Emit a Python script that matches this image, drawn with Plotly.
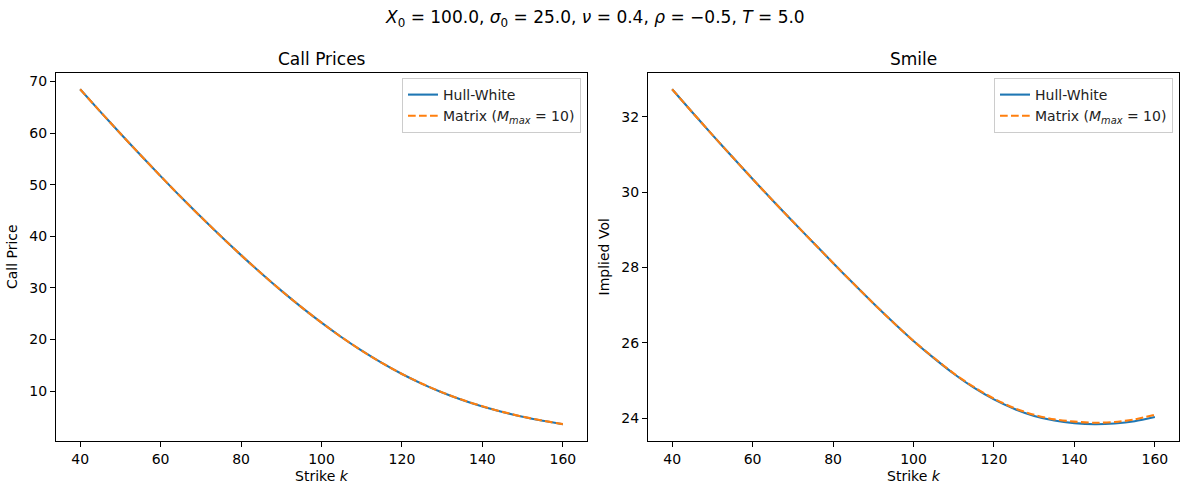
import plotly.graph_objects as go

strikes = [40, 45, 50, 55, 60, 65, 70, 75, 80, 85, 90, 95, 100, 105, 110, 115, 120, 125, 130, 135, 140, 145, 150, 155, 160]

call_hw = [68.49, 64.16, 59.91, 55.74, 51.65, 47.64, 43.76, 39.99, 36.34, 32.83, 29.46, 26.26, 23.24,
           20.42, 17.81, 15.44, 13.29, 11.39, 9.72, 8.27, 7.01, 5.94, 5.00, 4.22, 3.56]
call_mx = [68.49, 64.16, 59.91, 55.74, 51.65, 47.64, 43.76, 39.99, 36.34, 32.83, 29.46, 26.26, 23.24,
           20.42, 17.82, 15.45, 13.31, 11.41, 9.74, 8.29, 7.04, 5.96, 5.03, 4.25, 3.59]

vol_hw = [32.73, 32.12, 31.52, 30.93, 30.35, 29.78, 29.22, 28.67, 28.12, 27.58, 27.05, 26.54, 26.05,
          25.60, 25.18, 24.81, 24.50, 24.25, 24.06, 23.94, 23.87, 23.84, 23.86, 23.92, 24.03]
vol_mx = [32.73, 32.12, 31.52, 30.93, 30.35, 29.78, 29.22, 28.67, 28.12, 27.58, 27.05, 26.54, 26.05,
          25.61, 25.19, 24.83, 24.52, 24.27, 24.09, 23.97, 23.91, 23.88, 23.90, 23.97, 24.09]

x_ticks = [40, 60, 80, 100, 120, 140, 160]
call_ticks = [10, 20, 30, 40, 50, 60, 70]
vol_ticks = [24, 26, 28, 30, 32]

BLUE = "#1f77b4"
ORANGE = "#ff7f0e"
FONT = "DejaVu Sans"
W, H = 1189, 495

fig = go.Figure()

hw_name = "Hull-White"
mx_name = "Matrix (<i>M</i><sub><i>max</i></sub> = 10)"

fig.add_trace(go.Scatter(x=strikes, y=call_hw, mode="lines", name=hw_name,
                         line=dict(color=BLUE, width=2.1, shape="spline", smoothing=0.8),
                         xaxis="x", yaxis="y", legend="legend"))
fig.add_trace(go.Scatter(x=strikes, y=call_mx, mode="lines", name=mx_name,
                         line=dict(color=ORANGE, width=2.1, dash="7.7px,3.3px", shape="spline", smoothing=0.8),
                         xaxis="x", yaxis="y", legend="legend"))
fig.add_trace(go.Scatter(x=strikes, y=vol_hw, mode="lines", name=hw_name,
                         line=dict(color=BLUE, width=2.1, shape="spline", smoothing=0.8),
                         xaxis="x2", yaxis="y2", legend="legend2"))
fig.add_trace(go.Scatter(x=strikes, y=vol_mx, mode="lines", name=mx_name,
                         line=dict(color=ORANGE, width=2.1, dash="7.7px,3.3px", shape="spline", smoothing=0.8),
                         xaxis="x2", yaxis="y2", legend="legend2"))

def px_x(p):
    return p / W

def px_y(p):
    return (H - p) / H

axis_common = dict(showline=True, mirror=True, linecolor="black", linewidth=1,
                   ticks="outside", ticklen=5, tickwidth=1, tickcolor="black",
                   showgrid=False, zeroline=False, automargin=False,
                   tickfont=dict(family=FONT, size=14, color="black"))


def span(vals_a, vals_b):
    lo = min(min(vals_a), min(vals_b))
    hi = max(max(vals_a), max(vals_b))
    m = (hi - lo) * 0.05
    return [lo - m, hi + m]

xr = span(strikes, strikes)

fig.update_layout(
    width=W, height=H,
    margin=dict(l=0, r=0, t=0, b=0),
    paper_bgcolor="white", plot_bgcolor="white",
    font=dict(family=FONT, size=14, color="black"),
    xaxis=dict(domain=[px_x(56), px_x(587)], range=xr, tickvals=x_ticks, anchor="y",
               title=dict(text="Strike <i>k</i>", standoff=5, font=dict(size=14)), **axis_common),
    yaxis=dict(domain=[px_y(441), px_y(72.5)], range=span(call_hw, call_mx), tickvals=call_ticks, anchor="x",
               title=dict(text="Call Price", standoff=8, font=dict(size=14)), **axis_common),
    xaxis2=dict(domain=[px_x(648), px_x(1179)], range=xr, tickvals=x_ticks, anchor="y2",
                title=dict(text="Strike <i>k</i>", standoff=5, font=dict(size=14)), **axis_common),
    yaxis2=dict(domain=[px_y(441), px_y(72.5)], range=span(vol_hw, vol_mx), tickvals=vol_ticks, anchor="x2",
                title=dict(text="Implied Vol", standoff=8, font=dict(size=14)), **axis_common),
    legend=dict(x=px_x(581), y=px_y(78), xanchor="right", yanchor="top",
                bgcolor="rgba(255,255,255,0.8)", bordercolor="#cccccc", borderwidth=1,
                font=dict(family=FONT, size=14, color="#222"), itemwidth=30),
    legend2=dict(x=px_x(1173), y=px_y(78), xanchor="right", yanchor="top",
                 bgcolor="rgba(255,255,255,0.8)", bordercolor="#cccccc", borderwidth=1,
                 font=dict(family=FONT, size=14, color="#222"), itemwidth=30),
    showlegend=True,
    annotations=[
        dict(text="<i>X</i><sub>0</sub> = 100.0, <i>σ</i><sub>0</sub> = 25.0, <i>ν</i> = 0.4, <i>ρ</i> = −0.5, <i>T</i> = 5.0",
             x=0.5, y=px_y(18), xref="paper", yref="paper", showarrow=False,
             xanchor="center", yanchor="middle", font=dict(family=FONT, size=17, color="black")),
        dict(text="Call Prices", x=(px_x(56) + px_x(587)) / 2, y=px_y(59), xref="paper", yref="paper",
             showarrow=False, xanchor="center", yanchor="middle", font=dict(family=FONT, size=17, color="black")),
        dict(text="Smile", x=(px_x(648) + px_x(1179)) / 2, y=px_y(59), xref="paper", yref="paper",
             showarrow=False, xanchor="center", yanchor="middle", font=dict(family=FONT, size=17, color="black")),
    ],
)

fig.write_html("out.html")
